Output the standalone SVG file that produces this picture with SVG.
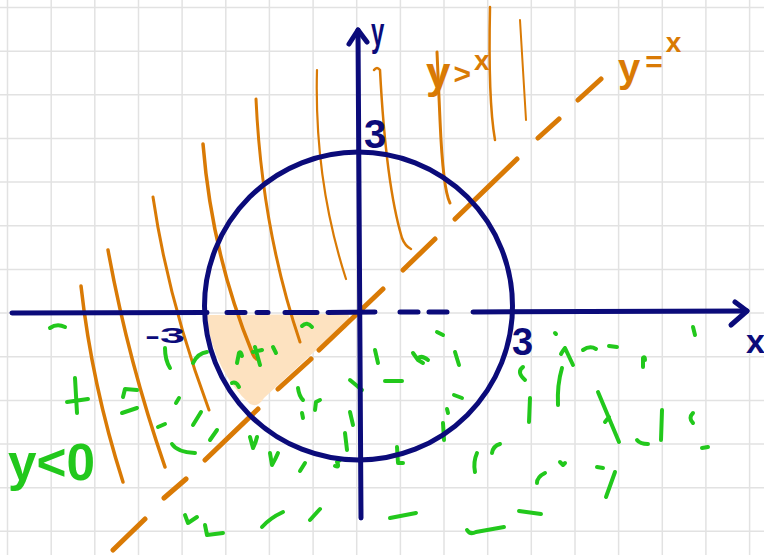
<svg xmlns="http://www.w3.org/2000/svg" width="764" height="555" viewBox="0 0 764 555">
<style>
.grid{stroke:#e2e2e2;stroke-width:1.5;fill:none}
.navy{stroke:#0b0b7a;fill:none;stroke-linecap:round;stroke-linejoin:round}
.org{stroke:#d97a05;fill:none;stroke-linecap:round;stroke-linejoin:round}
.grn{stroke:#22c81c;fill:none;stroke-width:4;stroke-linecap:round;stroke-linejoin:round}
.tn{fill:#0b0b7a;font-family:"Liberation Sans",Arial,sans-serif;font-weight:bold}
.to{fill:#d97a05;font-family:"Liberation Sans",Arial,sans-serif;font-weight:bold}
.tg{fill:#22c81c;font-family:"Liberation Sans",Arial,sans-serif;font-weight:bold}
</style>
<rect width="764" height="555" fill="#ffffff"/>
<g id="grid" class="grid">
<path d="M7.5,0V555M51.2,0V555M94.8,0V555M138.5,0V555M182.1,0V555M225.8,0V555M269.4,0V555M313.1,0V555M356.7,0V555M400.4,0V555M444,0V555M487.7,0V555M531.3,0V555M575,0V555M618.6,0V555M662.3,0V555M705.9,0V555M749.6,0V555"/>
<path d="M0,7.5H764M0,51.2H764M0,94.8H764M0,138.5H764M0,182.1H764M0,225.8H764M0,269.4H764M0,313.1H764M0,356.7H764M0,400.4H764M0,444H764M0,487.7H764M0,531.3H764"/>
</g>
<g id="shaded-region">
<path d="M206,315 L348,314 Q352,320 346,328 L314,352 L264,398 Q258,408 250,404 Q214,372 206,315 Z" fill="#fde2c0"/>
</g>
<g id="hatching" class="org">
<path d="M81,286 Q92,385 123,482" stroke-width="3.5"/>
<path d="M108,250 Q128,360 165,467" stroke-width="3.5"/>
<path d="M153,197 Q168,300 209,410" stroke-width="3"/>
<path d="M203,144 Q212,255 252,352 Q254,358 257,359" stroke-width="3.5"/>
<path d="M256,99 Q262,230 300,342" stroke-width="3"/>
<path d="M317,70 Q314,180 346,279" stroke-width="2.2"/>
<path d="M374,70 Q377,66 380,70 Q386,185 402,238 Q405,246 411,249" stroke-width="2.5"/>
<path d="M437,52 L440,120 Q443,190 450,203" stroke-width="3"/>
<path d="M490,7 Q488,100 495,140" stroke-width="2.5"/>
<path d="M520,20 L526,120" stroke-width="2"/>
</g>
<g id="marks-y-below-0" class="grn">
<path d="M50,328 Q57,323 65,327"/>
<path d="M75,378 L77,413 M67,402 L88,399"/>
<path d="M123,397 L125,389 L137,390 M122,413 L137,408"/>
<path d="M158,427 L165,424"/>
<path d="M172,444 Q177,452 195,453"/>
<path d="M165,348 Q165,360 170,368"/>
<path d="M193,363 Q198,353 207,352"/>
<path d="M176,403 L179,398"/>
<path d="M193,425 L201,412"/>
<path d="M210,440 L217,430"/>
<path d="M232,383 Q236,381 239,387"/>
<path d="M237,363 L239,353 Q241,351 242,356"/>
<path d="M255,347 L260,365 M253,352 L262,350"/>
<path d="M273,347 L276,353"/>
<path d="M302,326 Q307,321 312,327"/>
<path d="M250,437 L253,448 Q256,442 257,437"/>
<path d="M270,453 L272,465 Q276,458 278,453"/>
<path d="M298,388 Q299,396 303,400"/>
<path d="M302,413 L303,418"/>
<path d="M315,410 L316,402 L320,400"/>
<path d="M300,471 L305,463"/>
<path d="M350,380 L362,390"/>
<path d="M350,412 L353,425"/>
<path d="M345,433 L347,450"/>
<path d="M335,466 Q340,468 337,462 L340,460"/>
<path d="M375,350 L378,363"/>
<path d="M185,515 L188,523 L197,517"/>
<path d="M205,525 L207,535 L223,533"/>
<path d="M262,527 Q270,518 283,512"/>
<path d="M310,520 L320,509"/>
<path d="M437,332 L443,335"/>
<path d="M413,353 L418,360 L423,363 M418,358 Q422,355 428,360"/>
<path d="M455,352 L459,365"/>
<path d="M385,381 L402,381"/>
<path d="M454,395 L462,398"/>
<path d="M447,409 L448,413"/>
<path d="M443,423 L444,440"/>
<path d="M397,447 L398,463 L403,463"/>
<path d="M523,367 Q516,372 525,380"/>
<path d="M530,398 L529,422"/>
<path d="M562,368 Q557,385 558,405"/>
<path d="M555,333 L556,334"/>
<path d="M565,348 L573,365 M565,348 Q562,352 561,354"/>
<path d="M583,350 Q590,345 596,349"/>
<path d="M609,346 L617,347"/>
<path d="M643,367 L643,358 Q645,356 645,360"/>
<path d="M693,327 L695,335"/>
<path d="M598,392 L619,442 M605,422 L609,417"/>
<path d="M637,440 Q640,444 648,444"/>
<path d="M662,410 L661,440"/>
<path d="M693,413 Q688,418 693,423"/>
<path d="M702,448 L708,447"/>
<path d="M477,453 Q473,462 475,472"/>
<path d="M492,453 Q493,446 500,444"/>
<path d="M537,483 Q537,477 545,473"/>
<path d="M560,462 L563,465 L565,463"/>
<path d="M597,467 L603,468"/>
<path d="M615,472 L606,497"/>
<path d="M390,518 L416,513"/>
<path d="M467,530 Q470,535 476,532 L504,527"/>
<path d="M519,511 L541,514"/>
</g>
<g id="line-y-equals-x" class="org" stroke-width="5">
<path d="M113,550 L145,519 M164,498 L186,479 M205,460 L258,409 M278,389 L311,359 M319,350 L383,289 M403,270 L435,239 M455,219 L517,159 M538,138 L559,119 M578,100 L601,79"/>
</g>
<g id="axes" class="navy" stroke-width="5">
<path d="M12,313 L207,312.5"/>
<path d="M227,312.5 L245,312.5 M257,312.5 L268,312.5 M285,312.5 L317,312.5 M328,312.5 L375,312 M400,312 L418,312 M429,312 L447,312"/>
<path d="M473,312 L747,311"/>
<path d="M735,302 L747,311 L731,325"/>
<path d="M358,30 L361,518"/>
<path d="M349,44 L358,30 L367,42"/>
</g>
<g id="circle" class="navy" stroke-width="5">
<circle cx="358.5" cy="306" r="154"/>
</g>
<g id="labels">
<text class="tn" x="371" y="46" font-size="40" transform="translate(371 0) scale(0.6 1) translate(-371 0)">y</text>
<text class="tn" x="364" y="148" font-size="40">3</text>
<text class="tn" x="512" y="355" font-size="38">3</text>
<text class="tn" x="145" y="343" font-size="22" textLength="40" lengthAdjust="spacingAndGlyphs">-3</text>
<text class="tn" x="746" y="353" font-size="34">x</text>
<text class="to" x="426" y="88" font-size="44">y<tspan font-size="30" dx="3" dy="-4">&gt;</tspan><tspan font-size="28" dx="3" dy="-14">x</tspan></text>
<text class="to" x="618" y="82" font-size="40">y<tspan font-size="30" dx="5" dy="-10">=</tspan><tspan font-size="28" dx="3" dy="-20">x</tspan></text>
<text class="tg" x="8" y="480" font-size="52" textLength="87" lengthAdjust="spacingAndGlyphs">y&lt;0</text>
</g>
</svg>
